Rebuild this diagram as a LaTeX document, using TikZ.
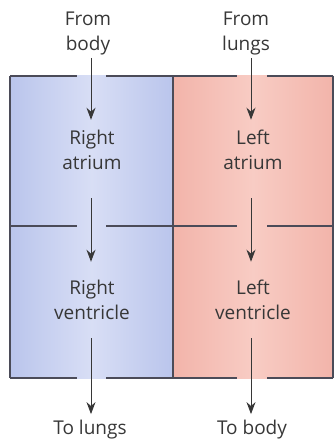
\documentclass[tikz,border=0pt]{standalone}
\usepackage{fontspec}
\setmainfont{Open Sans}
\usetikzlibrary{arrows.meta}
\definecolor{veinblue}{RGB}{186,197,236}
\definecolor{veinpale}{RGB}{216,222,245}
\definecolor{artpink}{RGB}{242,180,170}
\definecolor{artpale}{RGB}{248,204,196}
\definecolor{wallgrey}{RGB}{75,75,88}
\definecolor{inkgrey}{RGB}{55,55,55}
\begin{document}
\begin{tikzpicture}[x=0.5pt, y=-0.5pt,
    lbl/.style={align=center, text=inkgrey, font=\fontsize{9.5}{12.5}\selectfont, inner sep=1pt},
    flow/.style={-{Stealth[length=6pt, width=4.5pt]}, draw=inkgrey, line width=0.5pt},
    wall/.style={draw=wallgrey, line width=0.7pt}
]
    \useasboundingbox (0,0) rectangle (336,443);
    \shade[left color=veinblue, right color=veinblue, middle color=veinpale] (10,76) rectangle (173,378);
    \shade[left color=artpink, right color=artpink, middle color=artpale] (173,76) rectangle (333,378);

    \draw[wall] (10,76) -- (77,76) (106,76) -- (237,76) (267,76) -- (333,76);
    \draw[wall] (10,226) -- (77,226) (106,226) -- (237,226) (267,226) -- (333,226);
    \draw[wall] (10,378) -- (77,378) (106,378) -- (237,378) (267,378) -- (333,378);
    \draw[wall] (10,76) -- (10,378);
    \draw[wall] (173,76) -- (173,378);
    \draw[wall] (333,76) -- (333,378);

    \node[lbl] (frombody) at (88,34) {From\\body};
    \node[lbl] (fromlungs) at (246,34) {From\\lungs};
    \node[lbl] (ratrium) at (92,150) {Right\\atrium};
    \node[lbl] (latrium) at (253,150) {Left\\atrium};
    \node[lbl] (rventricle) at (92,300) {Right\\ventricle};
    \node[lbl] (lventricle) at (253,300) {Left\\ventricle};
    \node[lbl] (tolungs) at (90,430) {To lungs};
    \node[lbl] (tobody) at (252,430) {To body};

    \draw[flow, shorten >=4pt] (frombody.south -| 91,0) -- (ratrium.north -| 91,0);
    \draw[flow, shorten >=4pt] (fromlungs.south -| 251,0) -- (latrium.north -| 251,0);
    \draw[flow, shorten <=13pt, shorten >=8pt] (ratrium.south -| 91,0) -- (rventricle.north -| 91,0);
    \draw[flow, shorten <=13pt, shorten >=8pt] (latrium.south -| 251,0) -- (lventricle.north -| 251,0);
    \draw[flow, shorten <=8pt, shorten >=2pt] (rventricle.south -| 91,0) -- (tolungs.north -| 91,0);
    \draw[flow, shorten <=8pt, shorten >=2pt] (lventricle.south -| 251,0) -- (tobody.north -| 251,0);
\end{tikzpicture}
\end{document}
